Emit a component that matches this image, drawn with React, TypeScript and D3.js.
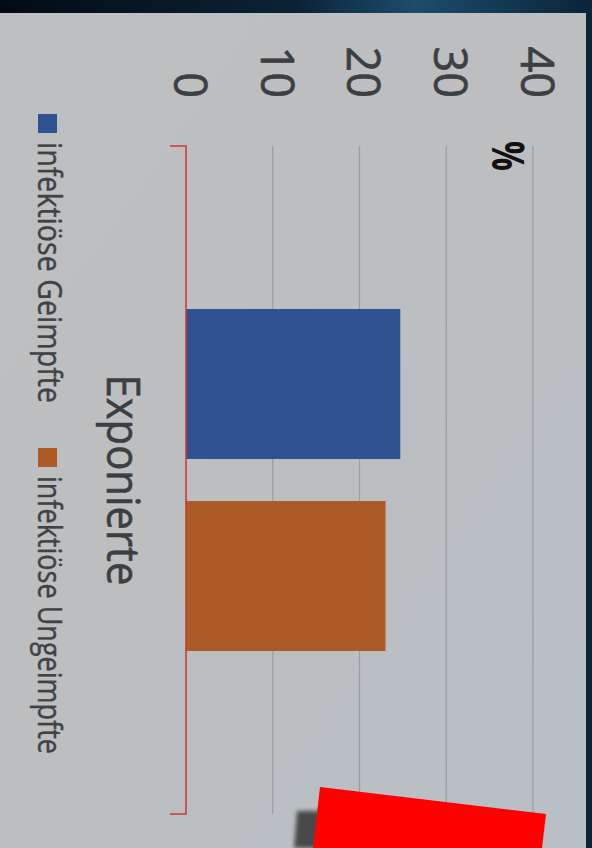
import { useEffect, useRef } from 'react'
import * as d3 from 'd3'

// Säulendiagramm (im Foto um 90° gedreht)
const W = 592
const H = 848

const categories = ['Exponierte']
const seriesNames = ['infektiöse Geimpfte', 'infektiöse Ungeimpfte']
const seriesValues = [24.7, 23.0]
const seriesColors = ['#2e5290', '#ad5b26']
const tickValues = [0, 10, 20, 30, 40]
const unitLabel = '%'

const FONT = '"Open Sans", "Noto Sans", sans-serif'

export default function App() {
  const svgRef = useRef<SVGSVGElement>(null)

  useEffect(() => {
    const svg = d3.select(svgRef.current)
    svg.selectAll('*').remove()

    // ── Hintergrund ──
    const defs = svg.append('defs')
    const bg = defs.append('linearGradient').attr('id', 'panel')
      .attr('x1', 0).attr('y1', 0).attr('x2', 1).attr('y2', 1)
    bg.append('stop').attr('offset', 0).attr('stop-color', '#bebfc0')
    bg.append('stop').attr('offset', 0.5).attr('stop-color', '#bcbec0')
    bg.append('stop').attr('offset', 1).attr('stop-color', '#b8c0c6')
    const top = defs.append('linearGradient').attr('id', 'topglow')
    top.append('stop').attr('offset', 0).attr('stop-color', '#030b14')
    top.append('stop').attr('offset', 0.5).attr('stop-color', '#0b2236')
    top.append('stop').attr('offset', 0.7).attr('stop-color', '#1d4c6e')
    top.append('stop').attr('offset', 1).attr('stop-color', '#0a2438')
    defs.append('filter').attr('id', 'blur')
      .append('feGaussianBlur').attr('stdDeviation', 2)

    svg.append('rect').attr('width', W).attr('height', H).attr('fill', '#0a2438')
    svg.append('rect').attr('width', W).attr('height', 13).attr('fill', 'url(#topglow)')
    svg.append('rect').attr('x', 0).attr('y', 13).attr('width', 586).attr('height', H - 13)
      .attr('fill', 'url(#panel)')

    // ── Skalen ──
    const xScale = d3.scaleLinear().domain([0, 40]).range([186, 533])
    const catScale = d3.scaleBand<string>().domain(categories).range([146, 814])
    const serScale = d3.scaleBand<string>().domain(seriesNames)
      .range([0, catScale.bandwidth()]).paddingInner(0.219).paddingOuter(0.849)

    const g = svg.append('g')

    // ── Gitterlinien ──
    tickValues.filter((v) => v > 0).forEach((v) => {
      g.append('line')
        .attr('x1', xScale(v)).attr('x2', xScale(v))
        .attr('y1', 146).attr('y2', 814)
        .attr('stroke', '#9a9da1').attr('stroke-width', 1.2)
    })

    // ── Achsenbeschriftung ──
    tickValues.forEach((v) => {
      g.append('text')
        .attr('transform', `translate(${xScale(v) + 4},98) rotate(90)`)
        .attr('text-anchor', 'end').attr('dy', '0.36em')
        .attr('font-family', FONT).attr('font-size', 45).attr('fill', '#3c3f43')
        .attr('stroke', '#3c3f43').attr('stroke-width', 0.7)
        .text(v)
    })

    g.append('text')
      .attr('transform', `translate(${xScale(40) - 25},141) rotate(90)`)
      .attr('dy', '0.36em')
      .attr('font-family', '"Open Sans", sans-serif').attr('font-weight', 700)
      .attr('font-size', 44).attr('fill', '#111')
      .attr('textLength', 30).attr('lengthAdjust', 'spacingAndGlyphs')
      .text(unitLabel)

    // ── Balken ──
    categories.forEach((c) => {
      seriesNames.forEach((s, i) => {
        const y0 = (catScale(c) ?? 0) + (serScale(s) ?? 0)
        g.append('rect')
          .attr('x', xScale(0)).attr('y', y0)
          .attr('width', xScale(seriesValues[i]) - xScale(0))
          .attr('height', serScale.bandwidth())
          .attr('fill', seriesColors[i])
      })

      // Kategorie
      const cy = (catScale(c) ?? 0) + catScale.bandwidth() / 2
      g.append('text')
        .attr('transform', `translate(107,${cy}) rotate(90)`)
        .attr('text-anchor', 'middle')
        .attr('font-family', FONT).attr('font-size', 46).attr('fill', '#3c3f42')
        .attr('stroke', '#3c3f42').attr('stroke-width', 0.6)
        .attr('textLength', 211).attr('lengthAdjust', 'spacingAndGlyphs')
        .text(c)
    })

    // ── Kategorieachse (rot) ──
    const [a0, a1] = catScale.range()
    g.append('path')
      .attr('d', `M${xScale(0) - 16},${a0}H${xScale(0)}V${a1}H${xScale(0) - 16}`)
      .attr('fill', 'none').attr('stroke', '#cf3a3a').attr('stroke-width', 1.6)

    // ── Legende ──
    const legendY = [114, 448]
    const legendLen = [261, 278]
    seriesNames.forEach((s, i) => {
      g.append('rect')
        .attr('x', 38).attr('y', legendY[i]).attr('width', 19).attr('height', 19)
        .attr('fill', seriesColors[i])
      g.append('text')
        .attr('transform', `translate(38,${legendY[i] + 28}) rotate(90)`)
        .attr('font-family', FONT).attr('font-size', 32).attr('fill', '#404346')
        .attr('stroke', '#404346').attr('stroke-width', 0.4)
        .attr('textLength', legendLen[i]).attr('lengthAdjust', 'spacingAndGlyphs')
        .text(s)
    })

    // ── Überdeckung unten (Foto) ──
    svg.append('path')
      .attr('d', 'M297,811L332,811L332,848L294,848Z')
      .attr('fill', '#464849').attr('filter', 'url(#blur)')
    svg.append('path')
      .attr('d', 'M320,787L546,814L542,848L313,848Z')
      .attr('fill', '#ff0000')
  }, [])

  return (
    <svg ref={svgRef} width={W} height={H}
      style={{ position: 'absolute', left: 0, top: 0, display: 'block' }} />
  )
}
